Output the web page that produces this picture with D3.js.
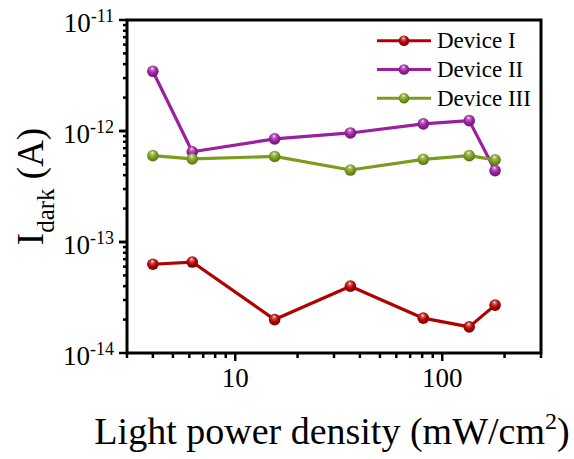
<!DOCTYPE html>
<html>
<head>
<meta charset="utf-8">
<script src="https://cdn.jsdelivr.net/npm/d3@7"></script>
<style>
  html, body { margin: 0; padding: 0; background: #fff; }
  svg { display: block; font-family: "Liberation Serif", "Times New Roman", serif; }
</style>
</head>
<body>
<svg id="chart" width="574" height="459"></svg>
<script>
// Light power density (mW/cm^2)
const powerDensity = [4, 6.2, 15.5, 36, 81, 135, 180];

// Dark current (A) per device
const deviceI   = [6.3e-14, 6.6e-14, 2.0e-14, 4.0e-14, 2.06e-14, 1.72e-14, 2.7e-14];
const deviceII  = [3.45e-12, 6.5e-13, 8.5e-13, 9.6e-13, 1.16e-12, 1.24e-12, 4.4e-13];
const deviceIII = [6.0e-13, 5.6e-13, 5.9e-13, 4.45e-13, 5.56e-13, 6.0e-13, 5.5e-13];

const seriesNames = ["Device I", "Device II", "Device III"];
const xTickValues = [10, 100];
const yTickExponents = [-11, -12, -13, -14];

const colors = ["#B10000", "#9B1FA0", "#7B9C1C"];
const seriesValues = [deviceI, deviceII, deviceIII];

const svg = d3.select("#chart");
const plotL = 127, plotR = 541, plotT = 20, plotB = 353;

const x = d3.scaleLog().domain([3, 300]).range([plotL, plotR]);
const y = d3.scaleLog().domain([1e-14, 1e-11]).range([plotB, plotT]);

// sphere-like marker gradients
const defs = svg.append("defs");
colors.forEach((c, i) => {
  const g = defs.append("radialGradient")
    .attr("id", "ball" + i)
    .attr("cx", "45%").attr("cy", "40%").attr("r", "60%")
    .attr("fx", "45%").attr("fy", "25%");
  g.append("stop").attr("offset", "0%").attr("stop-color", "#ffffff");
  g.append("stop").attr("offset", "22%").attr("stop-color", d3.interpolateRgb(c, "#fff")(0.35));
  g.append("stop").attr("offset", "60%").attr("stop-color", c);
  g.append("stop").attr("offset", "100%").attr("stop-color", d3.color(c).darker(0.9));
});

// minor + major ticks
const xMinor = [];
[1, 10, 100].forEach(d => { for (let k = 1; k <= 9; k++) { const v = d * k; if (v >= 3 && v <= 300) xMinor.push(v); } });
const yMinor = [];
[1e-14, 1e-13, 1e-12].forEach(d => { for (let k = 1; k <= 10; k++) yMinor.push(d * k); });

const tickG = svg.append("g").attr("stroke", "#000").attr("stroke-width", 2.5);
xMinor.forEach(v => {
  const major = xTickValues.includes(v);
  tickG.append("line")
    .attr("x1", x(v)).attr("x2", x(v))
    .attr("y1", plotB).attr("y2", plotB + (major ? 8 : 5));
});
yMinor.forEach(v => {
  const major = Math.abs(Math.log10(v) - Math.round(Math.log10(v))) < 1e-9;
  tickG.append("line")
    .attr("y1", y(v)).attr("y2", y(v))
    .attr("x1", plotL).attr("x2", plotL - (major ? 8 : 4));
});

// x tick labels
svg.append("g").selectAll("text").data(xTickValues).join("text")
  .attr("x", d => x(d)).attr("y", 387)
  .attr("text-anchor", "middle")
  .attr("font-size", 27)
  .text(d => d);

// y tick labels: 10 with superscript exponent
const yLab = svg.append("g").selectAll("text").data(yTickExponents).join("text")
  .attr("x", 114).attr("y", d => y(Math.pow(10, d)) + 12)
  .attr("text-anchor", "end")
  .attr("font-size", 27);
yLab.append("tspan").text("10");
yLab.append("tspan").attr("font-size", 18).attr("dy", -10).text(d => "-" + Math.abs(d));

// series lines and markers
const line = d3.line().x((d, i) => x(powerDensity[i])).y(d => y(d));
seriesValues.forEach((vals, i) => {
  svg.append("path")
    .datum(vals)
    .attr("d", line)
    .attr("fill", "none")
    .attr("stroke", colors[i])
    .attr("stroke-width", 3.2)
    .attr("stroke-linejoin", "round");
});
seriesValues.forEach((vals, i) => {
  svg.append("g").selectAll("circle").data(vals).join("circle")
    .attr("cx", (d, j) => x(powerDensity[j]))
    .attr("cy", d => y(d))
    .attr("r", 5.8)
    .attr("fill", `url(#ball${i})`);
});

// frame
svg.append("rect")
  .attr("x", plotL).attr("y", plotT)
  .attr("width", plotR - plotL).attr("height", plotB - plotT)
  .attr("fill", "none").attr("stroke", "#000").attr("stroke-width", 3);

// legend
const legend = svg.append("g");
seriesNames.forEach((name, i) => {
  const ly = 40.7 + i * 28.8;
  legend.append("line")
    .attr("x1", 377).attr("x2", 431).attr("y1", ly).attr("y2", ly)
    .attr("stroke", colors[i]).attr("stroke-width", 3);
  legend.append("circle")
    .attr("cx", 404).attr("cy", ly).attr("r", 5.3)
    .attr("fill", `url(#ball${i})`);
  legend.append("text")
    .attr("x", 437).attr("y", ly + 7.5)
    .attr("font-size", 23)
    .text(name);
});

// axis titles
const xt = svg.append("text")
  .attr("x", 332).attr("y", 444)
  .attr("text-anchor", "middle")
  .attr("font-size", 38);
xt.append("tspan").text("Light power density (mW/cm");
xt.append("tspan").attr("font-size", 24).attr("dy", -15).text("2");
xt.append("tspan").attr("dy", 15).text(")");

const yt = svg.append("text")
  .attr("transform", `translate(43, ${(plotT + plotB) / 2}) rotate(-90)`)
  .attr("text-anchor", "middle")
  .attr("font-size", 37);
yt.append("tspan").text("I");
yt.append("tspan").attr("font-size", 25).attr("dy", 11).text("dark");
yt.append("tspan").attr("dy", -11).text(" (A)");
</script>
</body>
</html>
